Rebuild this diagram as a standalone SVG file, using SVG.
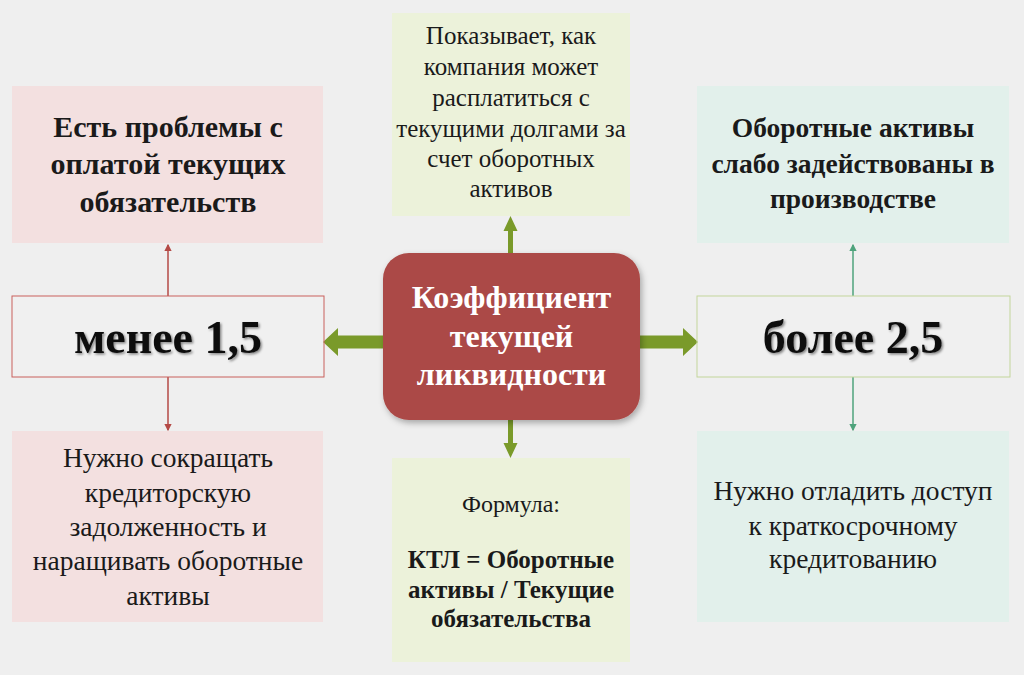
<svg xmlns="http://www.w3.org/2000/svg" width="1024" height="675" viewBox="0 0 1024 675">
<defs>
<style>
text{font-family:"Liberation Serif","DejaVu Serif",serif;text-anchor:middle;fill:#1a1a1a}
.pink{fill:#f3e0e0}
.mint{fill:#e2f0eb}
.lime{fill:#ecf2da}
.b{font-weight:bold}
.big{font-size:46px;font-weight:bold;filter:url(#ts);fill:#111}
.ga{fill:#7a9a2a}
.ra{stroke:#b44a46;stroke-width:1.5;fill:none}
.ta{stroke:#4fa37c;stroke-width:1.5;fill:none}
</style>
<marker id="mr" viewBox="0 0 6 6" refX="5" refY="3" markerWidth="5" markerHeight="5" orient="auto"><path d="M0,0L6,3L0,6z" fill="#b44a46"/></marker>
<marker id="mt" viewBox="0 0 6 6" refX="5" refY="3" markerWidth="5" markerHeight="5" orient="auto"><path d="M0,0L6,3L0,6z" fill="#4fa37c"/></marker>
<filter id="ts" x="-10%" y="-20%" width="130%" height="150%"><feDropShadow dx="1.5" dy="1.5" stdDeviation="1" flood-color="#000" flood-opacity="0.45"/></filter>
<filter id="bs" x="-10%" y="-10%" width="125%" height="130%"><feDropShadow dx="2" dy="3" stdDeviation="3" flood-color="#000" flood-opacity="0.3"/></filter>
</defs>
<rect width="1024" height="675" fill="#efefef"/>

<g id="connectors">
<path class="ga" d="M508,253V231H503.5L510.5,216L517.5,231H513V253Z"/>
<path class="ga" d="M508,420V443H503.5L510.5,458L517.5,443H513V420Z"/>
<path class="ga" d="M383,335.5H338V328L323,342L338,356V348.5H383Z"/>
<path class="ga" d="M640,335.5H683V328L698,342L683,356V348.5H640Z"/>
<line class="ra" x1="168" y1="296" x2="168" y2="245" marker-end="url(#mr)"/>
<line class="ra" x1="168" y1="377" x2="168" y2="430" marker-end="url(#mr)"/>
<line class="ta" x1="853" y1="296" x2="853" y2="245" marker-end="url(#mt)"/>
<line class="ta" x1="853" y1="377" x2="853" y2="430" marker-end="url(#mt)"/>
</g>

<g id="center">
<rect x="383" y="253" width="257" height="167" rx="26" fill="#ab4a46" filter="url(#bs)"/>
<text class="b" font-size="32" style="fill:#fff"><tspan x="511.5" y="308">Коэффициент</tspan><tspan x="511.5" y="347">текущей</tspan><tspan x="511.5" y="385">ликвидности</tspan></text>
</g>

<g id="top-info">
<rect class="lime" x="392" y="13" width="238" height="203"/>
<text font-size="25"><tspan x="511" y="44">Показывает, как</tspan><tspan x="511" y="75">компания может</tspan><tspan x="511" y="106">расплатиться с</tspan><tspan x="511" y="137">текущими долгами за</tspan><tspan x="511" y="167">счет оборотных</tspan><tspan x="511" y="197">активов</tspan></text>
</g>

<g id="formula">
<rect class="lime" x="392" y="458" width="238" height="204"/>
<text font-size="24"><tspan x="511" y="512">Формула:</tspan></text>
<text class="b" font-size="25"><tspan x="511" y="568">КТЛ = Оборотные</tspan><tspan x="511" y="598">активы / Текущие</tspan><tspan x="511" y="627">обязательства</tspan></text>
</g>

<g id="less">
<rect x="12" y="296" width="312" height="81" fill="#fff" fill-opacity="0.1" stroke="#c9605c" stroke-width="1"/>
<text class="big" x="168" y="353">менее 1,5</text>
</g>

<g id="more">
<rect x="697" y="296" width="313" height="81" fill="#fff" fill-opacity="0.1" stroke="#c3d69b" stroke-width="1"/>
<text class="big" x="853" y="353">более 2,5</text>
</g>

<g id="problems">
<rect class="pink" x="12" y="86" width="311" height="157"/>
<text class="b" font-size="30"><tspan x="168" y="137">Есть проблемы с</tspan><tspan x="168" y="174">оплатой текущих</tspan><tspan x="168" y="212">обязательств</tspan></text>
</g>

<g id="reduce">
<rect class="pink" x="12" y="431" width="311" height="191"/>
<text font-size="27.5"><tspan x="168" y="467">Нужно сокращать</tspan><tspan x="168" y="502">кредиторскую</tspan><tspan x="168" y="536">задолженность и</tspan><tspan x="168" y="570">наращивать оборотные</tspan><tspan x="168" y="605">активы</tspan></text>
</g>

<g id="underused">
<rect class="mint" x="697" y="86" width="312" height="157"/>
<text class="b" font-size="27.5"><tspan x="853" y="137">Оборотные активы</tspan><tspan x="853" y="173">слабо задействованы в</tspan><tspan x="853" y="208">производстве</tspan></text>
</g>

<g id="credit">
<rect class="mint" x="697" y="431" width="312" height="191"/>
<text font-size="27.5"><tspan x="853" y="500">Нужно отладить доступ</tspan><tspan x="853" y="535">к краткосрочному</tspan><tspan x="853" y="568">кредитованию</tspan></text>
</g>
</svg>
